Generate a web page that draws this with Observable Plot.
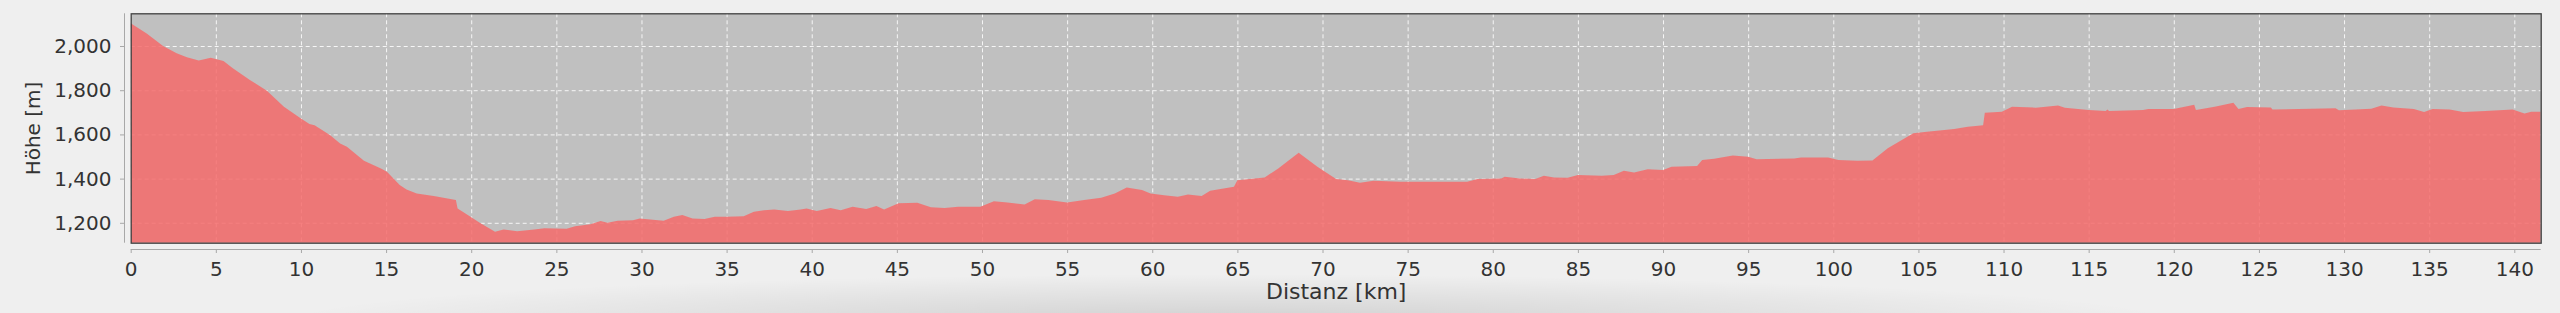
<!DOCTYPE html>
<html>
<head>
<meta charset="utf-8">
<script src="https://cdn.jsdelivr.net/npm/d3@7"></script>
<script src="https://cdn.jsdelivr.net/npm/@observablehq/plot@0.6"></script>
<style>
  html, body { margin: 0; padding: 0; }
  body {
    width: 2560px; height: 313px; overflow: hidden;
    background: #efefef;
  }
  #chart svg { display: block; }
</style>
</head>
<body>
<div id="chart"></div>
<script>
// Distance along the route [km]
const distanceKm = [
  0, 0.94, 1.9, 2.7, 3.3, 4.0, 4.7, 5.45, 6.0, 7.0,
  8.0, 9.0, 10.0, 10.5, 10.8, 11.7, 12.3, 12.7, 13.7, 14.7,
  15.05, 15.8, 16.2, 16.8, 17.8, 19.1, 19.2, 19.8, 20.5, 21.4,
  21.9, 22.7, 23.7, 24.3, 25.6, 26.1, 27.0, 27.6, 28.0, 28.6,
  29.5, 29.9, 31.3, 31.9, 32.4, 33.0, 33.7, 34.3, 35.0, 36.0,
  36.6, 37.2, 37.8, 38.6, 39.35, 39.7, 40.3, 41.1, 41.7, 42.4,
  43.2, 43.8, 44.25, 45.1, 46.2, 47.0, 47.8, 48.6, 49.9, 50.7,
  51.5, 52.5, 53.1, 53.9, 55.0, 56.0, 57.0, 57.8, 58.5, 59.4,
  59.9, 60.7, 61.5, 62.1, 62.9, 63.4, 64.8, 65.0, 66.6, 67.4,
  68.6, 69.7, 70.8, 71.5, 72.2, 73.0, 74.6, 76.6, 78.5, 79.1,
  80.5, 80.7, 81.6, 82.5, 83.0, 83.6, 84.4, 85.0, 86.4, 87.1,
  87.7, 88.3, 89.1, 90.0, 90.5, 92.0, 92.3, 93.0, 94.1, 95.0,
  95.5, 97.7, 98.1, 99.7, 100.3, 101.4, 102.3, 103.2, 104.0, 104.7,
  105.5, 107.1, 107.9, 108.8, 108.9, 109.9, 110.5, 111.9, 113.2, 113.6,
  115.0, 116.0, 116.1, 116.2, 118.2, 118.5, 120.0, 121.2, 121.3, 122.4,
  123.5, 123.8, 124.3, 125.7, 125.8, 129.5, 129.7, 131.6, 132.2, 132.9,
  134.1, 134.7, 135.2, 136.2, 137.0, 138.3, 139.9, 140.6, 141.0, 141.55
];
// Elevation [m]
const elevationM = [
  2103, 2057, 2000, 1967, 1949, 1934, 1947, 1932, 1899, 1846,
  1798, 1725, 1672, 1647, 1642, 1597, 1559, 1544, 1481, 1446,
  1431, 1371, 1351, 1333, 1321, 1303, 1265, 1235, 1200, 1159,
  1170, 1162, 1170, 1175, 1173, 1185, 1194, 1208, 1200, 1209,
  1212, 1220, 1209, 1227, 1235, 1220, 1217, 1227, 1227, 1230,
  1250, 1257, 1260, 1253, 1260, 1265, 1254, 1267, 1257, 1273,
  1262, 1276, 1260, 1288, 1291, 1270, 1267, 1273, 1273, 1298,
  1292, 1283, 1307, 1303, 1292, 1303, 1313, 1333, 1360, 1348,
  1333, 1325, 1318, 1328, 1321, 1345, 1363, 1393, 1405, 1446,
  1517, 1454, 1398, 1393, 1381, 1390, 1386, 1386, 1386, 1398,
  1401, 1408, 1401, 1398, 1413, 1405, 1404, 1416, 1413, 1416,
  1436, 1428, 1442, 1439, 1454, 1457, 1484, 1490, 1505, 1499,
  1488, 1491, 1496, 1496, 1484, 1481, 1482, 1537, 1574, 1605,
  1612, 1624, 1635, 1642, 1698, 1703, 1725, 1721, 1731, 1721,
  1710, 1706, 1713, 1706, 1710, 1715, 1715, 1734, 1710, 1725,
  1743, 1715, 1724, 1722, 1713, 1718, 1709, 1716, 1731, 1722,
  1715, 1701, 1715, 1713, 1701, 1706, 1713, 1695, 1703, 1703
];
const xTicks = d3.range(0, 141, 5);
const yTicks = [1200, 1400, 1600, 1800, 2000];
const xDomain = [0, 141.55];
const yDomain = [1110, 2148];
const xLabel = "Distanz [km]";
const yLabel = "Höhe [m]";

const profile = distanceKm.map((d, i) => ({km: d, ele: elevationM[i]}));

const chart = Plot.plot({
  width: 2560,
  height: 313,
  marginLeft: 130.7,
  marginRight: 19.3,
  marginTop: 13.3,
  marginBottom: 70.3,
  style: {
    fontFamily: "'DejaVu Sans', Verdana, sans-serif",
    fontSize: "20px",
    color: "#333",
    background: "radial-gradient(ellipse 950px 48px at 1230px 322px, rgba(0,0,0,0.13), rgba(0,0,0,0.04) 70%, rgba(0,0,0,0) 100%), #efefef",
    overflow: "visible"
  },
  x: {domain: xDomain, axis: null},
  y: {domain: yDomain, axis: null},
  marks: [
    Plot.frame({fill: "#c0c0c0", stroke: "none"}),
    Plot.gridX(xTicks, {stroke: "#ffffff", strokeOpacity: 0.85, strokeDasharray: "4,3"}),
    Plot.gridY(yTicks, {stroke: "#ffffff", strokeOpacity: 0.85, strokeDasharray: "4,3"}),
    Plot.areaY(profile, {x: "km", y: "ele", fill: "rgb(244,107,107)", fillOpacity: 0.86, clip: true, curve: "linear"}),
    Plot.frame({stroke: "#404040", strokeWidth: 1.3}),
    Plot.ruleX([xDomain[0]], {stroke: "#a8a8a8", dx: -6.7}),
    Plot.ruleY([yDomain[0]], {stroke: "#a8a8a8", dy: 6.3}),
    Plot.axisY(yTicks, {anchor: "left", tickSize: 4, tickPadding: 9, dx: -6.7, stroke: "#a8a8a8", fill: "#333", tickFormat: d3.format(","), label: null, fontSize: 20}),
    Plot.axisX(xTicks, {anchor: "bottom", tickSize: 4, tickPadding: 8, dy: 6.3, stroke: "#a8a8a8", fill: "#333", label: null, fontSize: 20}),
    Plot.text([yLabel], {frameAnchor: "left", rotate: -90, dx: -98, fill: "#333", fontSize: 20, textAnchor: "middle"}),
    Plot.text([xLabel], {frameAnchor: "bottom", dy: 56, fill: "#333", fontSize: 22, textAnchor: "middle"})
  ]
});
document.getElementById("chart").appendChild(chart);
</script>
</body>
</html>
